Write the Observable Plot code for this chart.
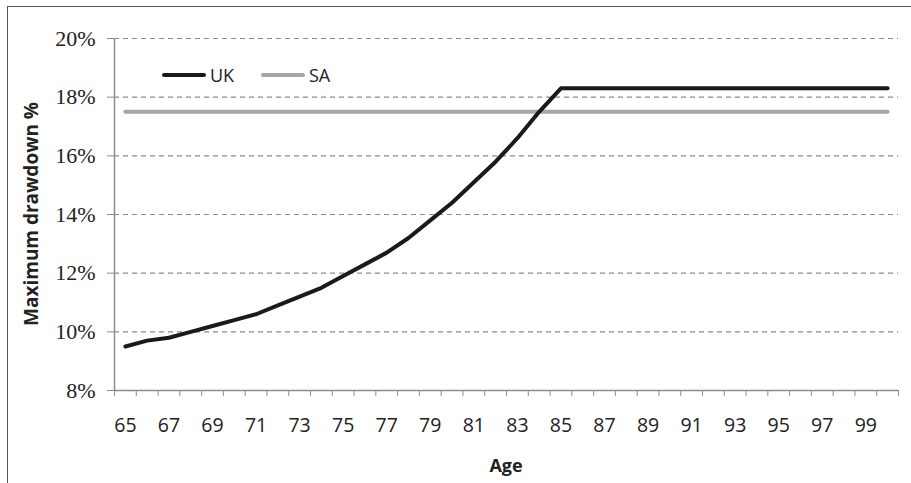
<!DOCTYPE html>
<html>
<head>
<meta charset="utf-8">
<script src="https://cdn.jsdelivr.net/npm/d3@7"></script>
<script src="https://cdn.jsdelivr.net/npm/@observablehq/plot@0.6"></script>
<style>
  html, body { margin: 0; padding: 0; background: #fff; }
  #wrap { position: relative; width: 911px; height: 483px; overflow: hidden; }
  #frame { position: absolute; left: 7px; top: 6px; width: 920px; height: 500px;
           border-left: 1.5px solid #555; border-top: 1.5px solid #555; pointer-events: none; }
  .ttl { position: absolute; font-family: "Open Sans", "Liberation Sans", sans-serif; font-weight: bold;
         font-size: 18px; color: #222; white-space: nowrap; }
  .leg { position: absolute; font-family: "Open Sans", "Liberation Sans", sans-serif; font-size: 18px;
         color: #222; display: flex; align-items: center; }
  .sw { display: inline-block; width: 44px; height: 4px; margin-right: 4px; border-radius: 2px; }
</style>
</head>
<body>
<div id="wrap">
  <div id="chart"></div>
  <div id="frame"></div>
  <div class="ttl" id="ytitle" style="left:31px; top:214px; font-size:19px; transform: translate(-50%,-50%) rotate(-90deg);">Maximum drawdown %</div>
  <div class="ttl" id="xtitle" style="left:506px; top:465px; transform: translate(-50%,-50%);">Age</div>
  <div class="leg" style="left:162px; top:63px;"><span class="sw" style="background:#1a1a1a"></span>UK</div>
  <div class="leg" style="left:261px; top:63px;"><span class="sw" style="background:#a6a6a6"></span>SA</div>
</div>
<script>
const ages = d3.range(65, 101);
const ukValues = [9.5, 9.7, 9.8, 10.0, 10.2, 10.4, 10.6, 10.9, 11.2, 11.5, 11.9, 12.3, 12.7, 13.2, 13.8, 14.4, 15.1, 15.8, 16.6, 17.5,
  18.3, 18.3, 18.3, 18.3, 18.3, 18.3, 18.3, 18.3, 18.3, 18.3, 18.3, 18.3, 18.3, 18.3, 18.3, 18.3];
const saValues = ages.map(() => 17.5);
const yTicks = [8, 10, 12, 14, 16, 18, 20];
const xLabelTicks = d3.range(65, 100, 2);
const xBoundaryTicks = d3.range(64.5, 101, 1);

const uk = ages.map((a, i) => ({age: a, v: ukValues[i]}));
const sa = ages.map((a, i) => ({age: a, v: saValues[i]}));

const chart = Plot.plot({
  width: 911,
  height: 483,
  marginTop: 38,
  marginBottom: 93,
  marginLeft: 114,
  marginRight: 13,
  x: {domain: [64.5, 100.5]},
  y: {domain: [8, 20]},
  marks: [
    Plot.ruleY(yTicks.filter(d => d > 8), {stroke: "#8c8c8c", strokeWidth: 1.2, strokeDasharray: "5,4"}),
    Plot.ruleX([64.5], {stroke: "#8c8c8c", strokeWidth: 1.5}),
    Plot.ruleY([8], {stroke: "#8c8c8c", strokeWidth: 1.5}),
    Plot.axisY({ticks: yTicks, tickSize: 7, tickFormat: d => d + "%", stroke: "#8c8c8c",
      fill: "#222", tickPadding: 12, label: null}),
    Plot.axisX({ticks: xBoundaryTicks, tickSize: 6, tickFormat: () => "", stroke: "#8c8c8c", label: null}),
    Plot.axisX({ticks: xLabelTicks, tickSize: 0, tickPadding: 28, tickFormat: d => String(d),
      fill: "#222", label: null}),
    Plot.line(sa, {x: "age", y: "v", stroke: "#a6a6a6", strokeWidth: 4}),
    Plot.line(uk, {x: "age", y: "v", stroke: "#1a1a1a", strokeWidth: 4})
  ]
});
document.getElementById("chart").appendChild(chart);
d3.select(chart).selectAll("g").each(function() {
  const lab = this.getAttribute("aria-label") || "";
  if (lab === "y-axis tick label") d3.select(this).selectAll("text").style("font-family", "'Liberation Serif', serif").style("font-size", "22px");
  if (lab === "x-axis tick label") d3.select(this).selectAll("text").style("font-family", "'Open Sans', 'Liberation Sans', sans-serif").style("font-size", "19.5px");
});
</script>
</body>
</html>
